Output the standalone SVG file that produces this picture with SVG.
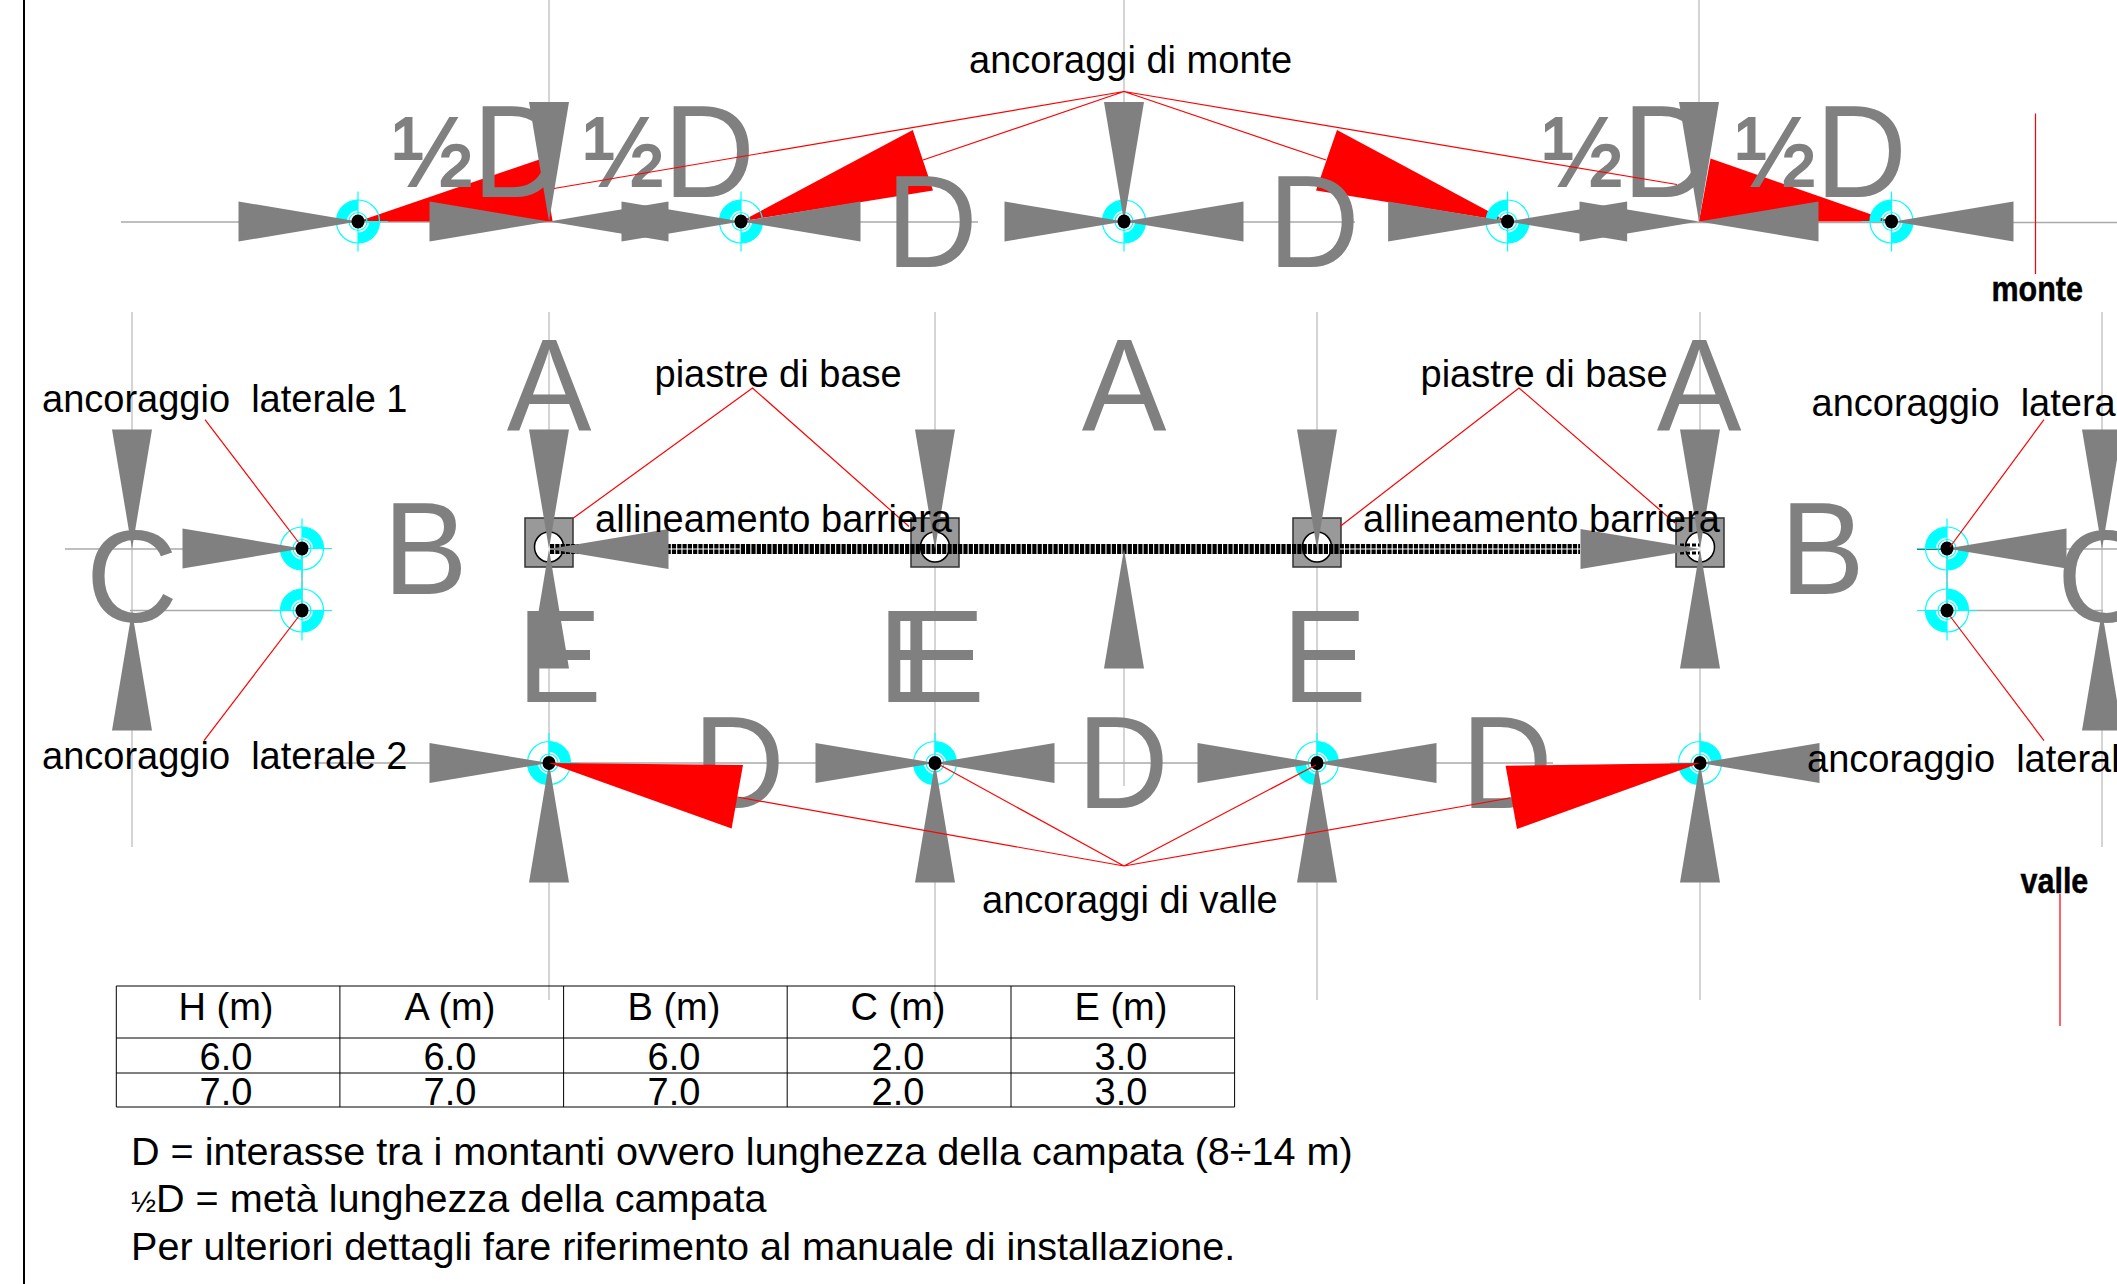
<svg xmlns="http://www.w3.org/2000/svg" width="2117" height="1284" viewBox="0 0 2117 1284">
<style>
text{font-family:"Liberation Sans",Arial,sans-serif;fill:#000;font-size:38px;white-space:pre}
.g{fill:#808080;font-size:127px}
.h{font-size:95px;stroke:#808080;stroke-width:2}
.b{font-weight:bold;font-size:30.5px;stroke:#000;stroke-width:.4}
.c{text-anchor:middle}
.n{font-size:39.6px}
.gl{stroke:#aaa;stroke-width:1.5;fill:none}
.rl{stroke:#f00;stroke-width:1.2;fill:none}
.tri{fill:#f00}
.tb{stroke:#000;stroke-width:1;fill:none}
.cy{fill:#0ff}
.cl{fill:none;stroke:#0ff;stroke-width:1.2}
</style>
<defs>
<polygon id="ar" points="0,0 -119.5,-20 -119.5,20" fill="#808080"/>
<g id="cross"><circle class="cl" r="21.5"/><circle class="cl" r="9"/><path class="cl" d="M-30,0H30M0,-30V30"/></g>
<g id="ringA"><use href="#cross"/><path class="cy" d="M-21.5,0A21.5,21.5 0 0 1 0,-21.5V-11A11,11 0 0 0 -11,0ZM21.5,0A21.5,21.5 0 0 1 0,21.5V11A11,11 0 0 0 11,0Z"/></g>
<g id="ringB"><use href="#cross"/><path class="cy" d="M0,-21.5A21.5,21.5 0 0 1 21.5,0H11A11,11 0 0 0 0,-11ZM0,21.5A21.5,21.5 0 0 1 -21.5,0H-11A11,11 0 0 0 0,11Z"/></g>
<ellipse id="dot" rx="6.5" ry="7" fill="#000"/>
<g id="plate"><rect x="-24" y="-31" width="48" height="49" fill="#999" stroke="#333" stroke-width="1.5"/><ellipse cx="0" cy="-2" rx="14.5" ry="15" fill="#fff" stroke="#000" stroke-width="1.5"/></g>
</defs>
<rect width="2117" height="1284" fill="#fff"/>
<line x1="24" y1="0" x2="24" y2="1284" stroke="#000" stroke-width="2"/>

<g id="guides">
<path class="gl" d="M121,222H978M1006,222H1355M1389,222.5H2117" stroke-width="2"/>
<path class="gl" d="M549,0V222M1124,0V222M1699,0V222" style="stroke-width:1"/>
<path class="gl" d="M549,312V1000M935,312V1000M1317,312V1000M1700,312V1000M132,312V847M2102,312V847M1124,560V786" style="stroke-width:1"/>
<path class="gl" d="M65,549H302M1947,549H2117M130,610.5H302M1947,610.5H2103M314,763H1553M302,549V610M1947,549V610"/>
<path d="M1917,549H1947" stroke="#333" stroke-width="1.5" fill="none"/>
</g>

<g id="red-anchors-monte">
<polygon class="tri" points="358,221.5 552.6,221.5 542.3,158.6"/>
<polygon class="tri" points="741,221.5 912.8,130 933,190.6"/>
<polygon class="tri" points="1507.6,221.5 1337,130 1316,190.6"/>
<polygon class="tri" points="1891.5,221.5 1699,221.5 1710.5,158.4"/>
</g>

<g id="plates">
<use href="#plate" x="549" y="549"/>
<use href="#plate" x="935" y="549"/>
<use href="#plate" x="1317" y="549"/>
<use href="#plate" x="1700" y="549"/>
</g>

<g id="barrier">
<line x1="550" y1="549" x2="1580" y2="549" stroke="#000" stroke-width="10" stroke-dasharray="4.2 1.1"/>
<line x1="550" y1="549" x2="740" y2="549" stroke="#fff" stroke-width="1"/>
<line x1="1340" y1="549" x2="1580" y2="549" stroke="#fff" stroke-width="1.2"/>
<path d="M1680,545H1700M1680,553H1700" stroke="#000" stroke-width="3" stroke-dasharray="4 2" fill="none"/>
</g>

<g id="anchors-monte">
<g id="anchor-m1"><use href="#ringA" x="358" y="221.5"/><use href="#ar" transform="translate(358,221.5)"/><use href="#dot" x="358" y="221.5"/></g>
<g id="post-m1"><use href="#ar" transform="translate(549,221.5)"/><use href="#ar" transform="translate(549,221.5) rotate(180)"/><use href="#ar" transform="translate(549,221.5) rotate(90)"/></g>
<g id="anchor-m2"><use href="#ringA" x="741" y="221.5"/><use href="#ar" transform="translate(741,221.5)"/><use href="#ar" transform="translate(741,221.5) rotate(180)"/><use href="#dot" x="741" y="221.5"/></g>
<g id="anchor-m3"><use href="#ringA" x="1124" y="221.5"/><use href="#ar" transform="translate(1124,221.5)"/><use href="#ar" transform="translate(1124,221.5) rotate(180)"/><use href="#ar" transform="translate(1124,221.5) rotate(90)"/><use href="#dot" x="1124" y="221.5"/></g>
<g id="anchor-m4"><use href="#ringA" x="1507.6" y="221.5"/><use href="#ar" transform="translate(1507.6,221.5)"/><use href="#ar" transform="translate(1507.6,221.5) rotate(180)"/><use href="#dot" x="1507.6" y="221.5"/></g>
<g id="post-m2"><use href="#ar" transform="translate(1699,221.5)"/><use href="#ar" transform="translate(1699,221.5) rotate(180)"/><use href="#ar" transform="translate(1699,221.5) rotate(90)"/></g>
<g id="anchor-m5"><use href="#ringA" x="1891.5" y="221.5"/><use href="#ar" transform="translate(1894,221.5) rotate(180)"/><use href="#dot" x="1891.5" y="221.5"/></g>
</g>

<g id="lateral">
<g id="anchor-l1"><use href="#ringB" x="302" y="548.5"/><use href="#ar" transform="translate(302,548.5)"/><use href="#dot" x="302" y="548.5"/></g>
<g id="anchor-l2"><use href="#ringA" x="302" y="610.5"/><use href="#dot" x="302" y="610.5"/></g>
<g id="anchor-r1"><use href="#ringA" x="1947" y="548.5"/><use href="#ar" transform="translate(1947,548.5) rotate(180)"/><use href="#dot" x="1947" y="548.5"/></g>
<g id="anchor-r2"><use href="#ringB" x="1947" y="610.5"/><use href="#dot" x="1947" y="610.5"/></g>
<use href="#ar" transform="translate(132,549) rotate(90)"/>
<use href="#ar" transform="translate(132,611) rotate(-90)"/>
<use href="#ar" transform="translate(2102,549) rotate(90)"/>
<use href="#ar" transform="translate(2102,611) rotate(-90)"/>
</g>

<g id="post-arrows">
<use href="#ar" transform="translate(549,549) rotate(90)"/><use href="#ar" transform="translate(549,549) rotate(180)"/><use href="#ar" transform="translate(549,549) rotate(-90)"/>
<use href="#ar" transform="translate(935,549) rotate(90)"/>
<use href="#ar" transform="translate(1317,549) rotate(90)"/>
<use href="#ar" transform="translate(1124,549) rotate(-90)"/>
<use href="#ar" transform="translate(1700,549) rotate(90)"/><use href="#ar" transform="translate(1700,549)"/><use href="#ar" transform="translate(1700,549) rotate(-90)"/>
</g>

<g id="anchors-valle">
<g id="anchor-v1"><use href="#ringB" x="549" y="763"/><use href="#ar" transform="translate(549,763)"/><use href="#ar" transform="translate(549,763) rotate(-90)"/><use href="#dot" x="549" y="763"/></g>
<g id="anchor-v2"><use href="#ringB" x="935" y="763"/><use href="#ar" transform="translate(935,763)"/><use href="#ar" transform="translate(935,763) rotate(180)"/><use href="#ar" transform="translate(935,763) rotate(-90)"/><use href="#dot" x="935" y="763"/></g>
<g id="anchor-v3"><use href="#ringB" x="1317" y="763"/><use href="#ar" transform="translate(1317,763)"/><use href="#ar" transform="translate(1317,763) rotate(180)"/><use href="#ar" transform="translate(1317,763) rotate(-90)"/><use href="#dot" x="1317" y="763"/></g>
<g id="anchor-v4"><use href="#ringB" x="1700" y="763"/><use href="#ar" transform="translate(1700,763) rotate(180)"/><use href="#ar" transform="translate(1700,763) rotate(-90)"/><use href="#dot" x="1700" y="763"/></g>
</g>

<g id="dimensions">
<text class="g" transform="translate(393 197) scale(1 1.04)"><tspan class="h" dy="-11">½</tspan><tspan dy="11">D</tspan></text>
<text class="g" transform="translate(584 197) scale(1 1.04)"><tspan class="h" dy="-11">½</tspan><tspan dy="11">D</tspan></text>
<text class="g" transform="translate(1543 197) scale(1 1.04)"><tspan class="h" dy="-11">½</tspan><tspan dy="11">D</tspan></text>
<text class="g" transform="translate(1736 197) scale(1 1.04)"><tspan class="h" dy="-11">½</tspan><tspan dy="11">D</tspan></text>
<text class="g" transform="translate(886 267) scale(1 1.04)">D</text>
<text class="g" transform="translate(1268 267) scale(1 1.04)">D</text>
<text class="g c" transform="translate(549 431) scale(1 1.04)">A</text>
<text class="g c" transform="translate(1124 431) scale(1 1.04)">A</text>
<text class="g c" transform="translate(1699 431) scale(1 1.04)">A</text>
<text class="g" transform="translate(383 594) scale(1 1.04)">B</text>
<text class="g" transform="translate(1780 594) scale(1 1.04)">B</text>
<text class="g" transform="translate(86 622) scale(1 1.04)">C</text>
<text class="g" transform="translate(2057 622) scale(1 1.04)">C</text>
<text class="g" transform="translate(517 701.5) scale(1 1.04)">E</text>
<text class="g" transform="translate(878 701.5) scale(1 1.04)">E</text>
<text class="g" transform="translate(900 701.5) scale(1 1.04)">E</text>
<text class="g" transform="translate(1282 701.5) scale(1 1.04)">E</text>
<text class="g" transform="translate(693 808) scale(1 1.04)">D</text>
<text class="g" transform="translate(1077 808) scale(1 1.04)">D</text>
<text class="g" transform="translate(1461 808) scale(1 1.04)">D</text>
</g>

<g id="red-anchors-valle">
<polygon class="tri" points="549,763 743,765 731.6,828.5"/>
<polygon class="tri" points="1700,763 1505.6,765.7 1517,829"/>
</g>

<g id="connectors">
<path class="rl" d="M554,188.5L1124,91.5L923,160M1326,160L1124,91.5L1677,184.5"/>
<path class="rl" d="M573.4,518L752.5,388L909,526.5"/>
<path class="rl" d="M1340,526.5L1519,388L1675,523"/>
<path class="rl" d="M205,419.6L299,543M299,616L204,740.6"/>
<path class="rl" d="M2044,419.6L1950,547M1950,616L2044,740.6"/>
<path class="rl" d="M737,797L1124,866L940,765M1316,765L1124,866L1510,798"/>
<path class="rl" d="M2035.5,113.5V274M2060,894V1026"/>
</g>

<g id="labels">
<text x="969" y="72.5">ancoraggi di monte</text>
<text class="b" transform="translate(1991.5 300.5) scale(1 1.18)">monte</text>
<text x="654.5" y="386.5">piastre di base</text>
<text x="1420.5" y="386.5">piastre di base</text>
<text x="42" y="412">ancoraggio  laterale 1</text>
<text x="1811.5" y="416">ancoraggio  latera</text>
<text x="595" y="531.5">allineamento barriera</text>
<text x="1363" y="532">allineamento barriera</text>
<text x="42" y="768.5">ancoraggio  laterale 2</text>
<text x="1807" y="772">ancoraggio  lateral</text>
<text x="982" y="912.5">ancoraggi di valle</text>
<text class="b" transform="translate(2020.5 892.5) scale(1 1.18)">valle</text>
</g>

<g id="table">
<path class="tb" d="M116.3,986H1234.6V1107H116.3ZM116.3,1038H1234.6M116.3,1073H1234.6M339.9,986V1107M563.6,986V1107M787.2,986V1107M1011,986V1107"/>
<text class="c" x="226" y="1020">H (m)</text><text class="c" x="450" y="1020">A (m)</text><text class="c" x="674" y="1020">B (m)</text><text class="c" x="898" y="1020">C (m)</text><text class="c" x="1121" y="1020">E (m)</text>
<text class="c" x="226" y="1070">6.0</text><text class="c" x="450" y="1070">6.0</text><text class="c" x="674" y="1070">6.0</text><text class="c" x="898" y="1070">2.0</text><text class="c" x="1121" y="1070">3.0</text>
<text class="c" x="226" y="1104.5">7.0</text><text class="c" x="450" y="1104.5">7.0</text><text class="c" x="674" y="1104.5">7.0</text><text class="c" x="898" y="1104.5">2.0</text><text class="c" x="1121" y="1104.5">3.0</text>
</g>

<g id="notes">
<text class="n" x="131" y="1164.5">D = interasse tra i montanti ovvero lunghezza della campata (8÷14 m)</text>
<text class="n" x="131" y="1212"><tspan font-size="30">½</tspan>D = metà lunghezza della campata</text>
<text class="n" x="131" y="1259.5">Per ulteriori dettagli fare riferimento al manuale di installazione.</text>
</g>
</svg>
